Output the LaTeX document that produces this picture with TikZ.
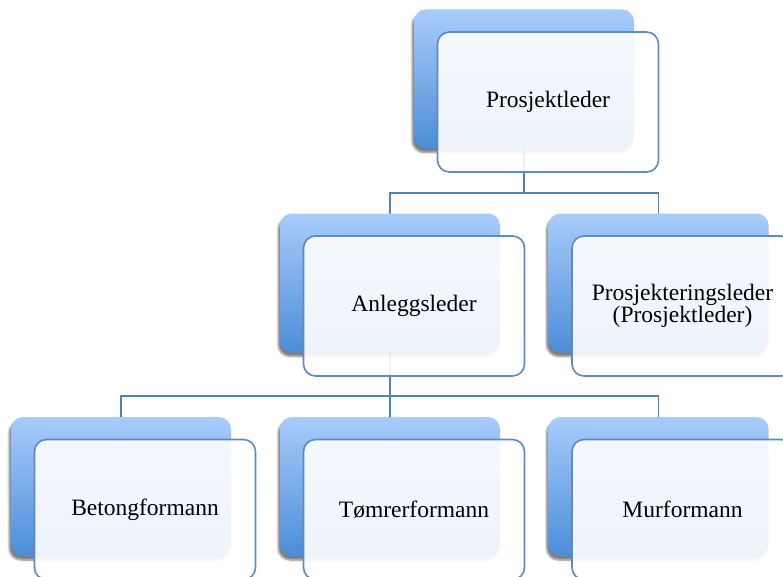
\documentclass[tikz,border=0pt]{standalone}
\usepackage{fontspec}
\setmainfont{Liberation Serif}
\usetikzlibrary{shadows.blur}
\definecolor{linec}{HTML}{4F81BD}
\definecolor{bordc}{HTML}{5B8AC5}
\definecolor{gtop}{HTML}{A8CCFB}
\definecolor{gbot}{HTML}{4C8DD8}
\pgfdeclarelayer{bg}
\pgfsetlayers{bg,main}
\begin{document}
\begin{tikzpicture}[x=1pt,y=-1pt,
  backbox/.style={rectangle, rounded corners=12pt, minimum width=220pt, minimum height=139pt,
    top color=gtop, bottom color=gbot, draw=none,
    blur shadow={shadow xshift=-2pt, shadow yshift=-4pt, shadow blur steps=6, shadow opacity=50}},
  frontbox/.style={rectangle, rounded corners=12pt, minimum width=221pt, minimum height=140pt,
    draw=bordc, line width=1.6pt, fill=white, fill opacity=0.9, text opacity=1, align=center,
    font=\fontsize{23.5}{22.5}\selectfont, text=black},
  conn/.style={draw=linec, line width=1.6pt}]
\clip (0,0) rectangle (783,577);
% back boxes
\node[backbox] (plb) at (524,79) {};
\node[backbox] (alb) at (390,283) {};
\node[backbox] (prb) at (658.5,283) {};
\node[backbox] (bfb) at (121,486.5) {};
\node[backbox] (tfb) at (390,486.5) {};
\node[backbox] (mfb) at (658.5,486.5) {};
% front boxes
\node[frontbox] (pl) at (548,102) {Prosjektleder};
\node[frontbox] (al) at (414,306) {Anleggsleder};
\node[frontbox] (pr) at (682.5,306) {Prosjekteringsleder\\(Prosjektleder)};
\node[frontbox] (bf) at (145,509.5) {Betongformann};
\node[frontbox] (tf) at (414,509.5) {Tømrerformann};
\node[frontbox] (mf) at (682.5,509.5) {Murformann};
\coordinate (bus1) at (0,193);
\coordinate (bus2) at (0,396);
\begin{pgfonlayer}{bg}
\draw[conn] (plb.center) -- (plb.center |- bus1);
\draw[conn] (alb.center) -- (alb.center |- bus1) -- (prb.center |- bus1) -- (prb.center);
\draw[conn] (alb.center) -- (tfb.center);
\draw[conn] (bfb.center) -- (bfb.center |- bus2) -- (mfb.center |- bus2) -- (mfb.center);
\end{pgfonlayer}
\end{tikzpicture}
\end{document}
